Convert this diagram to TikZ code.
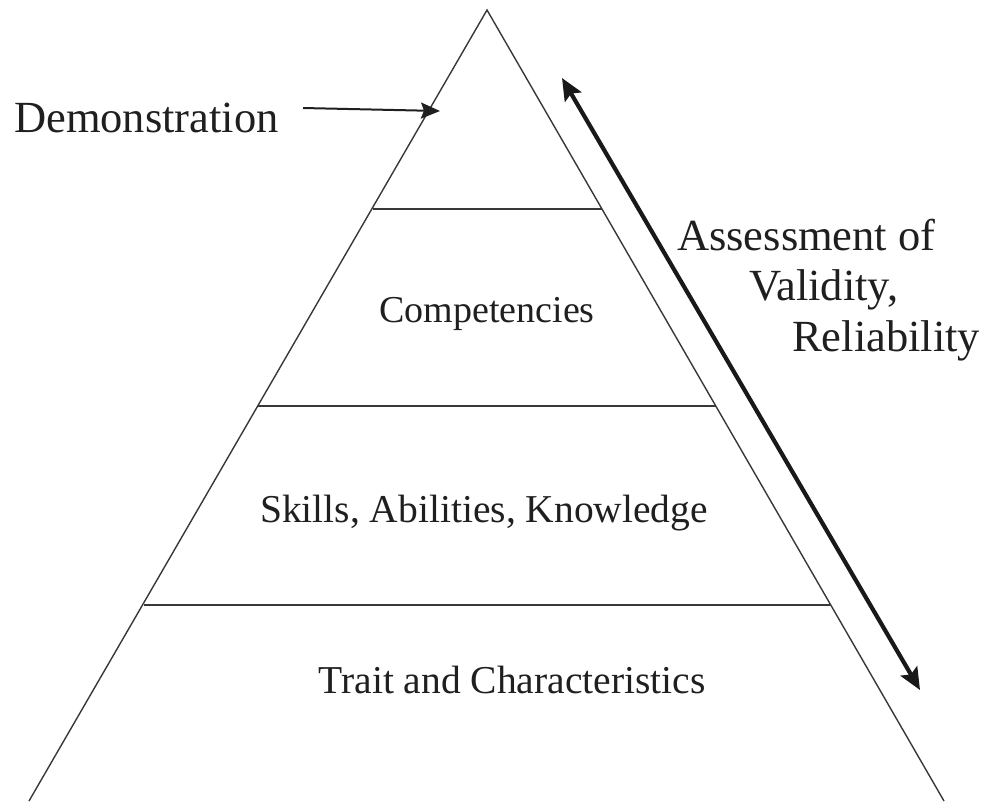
\documentclass[tikz,border=0pt]{standalone}
\usepackage{fontspec}
\setmainfont{Liberation Serif}
\usetikzlibrary{arrows.meta}
\begin{document}
\begin{tikzpicture}[x=1pt,y=-1pt,
  tier/.style={draw=black!78, line width=1.4pt},
  outer/.style={font=\fontsize{44.5}{50}\selectfont, text=black!88, inner sep=0pt, anchor=base west},
  inner/.style={font=\fontsize{39.5}{44}\selectfont, text=black!88, inner sep=0pt, anchor=base},
  spanarrow/.style={black!90, line width=4.2pt,
    {Stealth[length=22pt,width=19pt,inset=4pt]}-{Stealth[length=22pt,width=19pt,inset=4pt]}},
  pointer/.style={black!88, line width=2pt, -{Stealth[length=19pt,width=16pt,inset=3pt]}},
]
\useasboundingbox (0,0) rectangle (981,801);

% pyramid outline
\coordinate (apex) at (487,10);
\coordinate (bl) at (29,801);
\coordinate (br) at (944,801);
\draw[tier] (bl) -- (apex) -- (br);

% tier dividers
\coordinate (l1) at (372.5,209); \coordinate (r1) at (601.5,209);
\coordinate (l2) at (258,406);   \coordinate (r2) at (716,406);
\coordinate (l3) at (144,605);   \coordinate (r3) at (830,605);
\draw[tier] (l1) -- (r1);
\draw[tier] (l2) -- (r2);
\draw[tier] (l3) -- (r3);

% tier labels
\node[inner, font=\fontsize{38}{44}\selectfont] (comp) at (487,322) {Competencies};
\node[inner] (ska) at (484,522) {Skills, Abilities, Knowledge};
\node[inner] (trait) at (512,693) {Trait and Characteristics};

% demonstration pointer
\node[outer] (demo) at (14,132) {Demonstration};
\coordinate (demoS) at (303,108);
\coordinate (demoE) at (440,111);
\draw[pointer] (demoS) -- (demoE);

% assessment span
\coordinate (asTop) at (562,78);
\coordinate (asBot) at (920,690);
\draw[spanarrow] (asTop) -- (asBot);

\node[outer] (assess) at (677,250) {Assessment of};
\node[outer] (valid) at (749,300) {Validity,};
\node[outer] (reli) at (792,351) {Reliability};
\end{tikzpicture}
\end{document}
